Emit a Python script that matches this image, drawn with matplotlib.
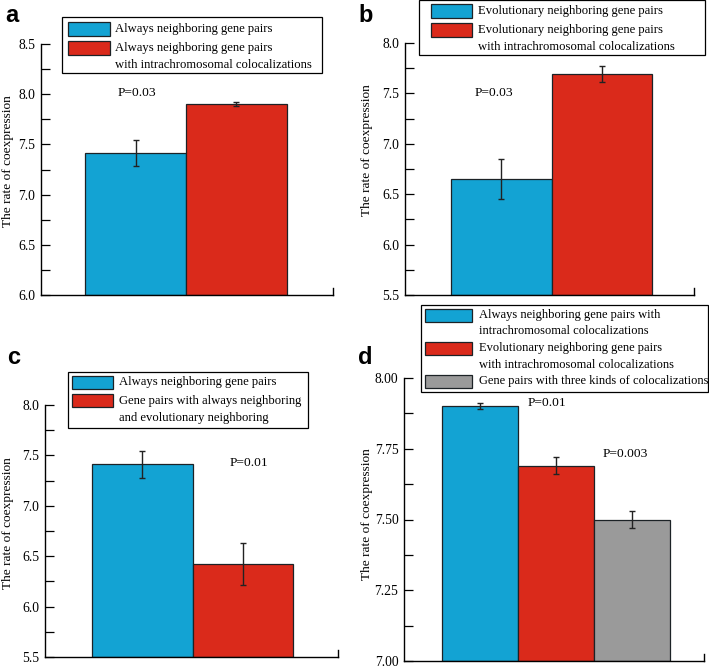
import numpy as np
import matplotlib.pyplot as plt
from matplotlib.patches import Rectangle

plt.rcParams['font.family'] = ['Liberation Serif', 'DejaVu Serif']

W, H = 709, 669

# data for the four panels
labels_a = ['Always neighboring gene pairs',
            'Always neighboring gene pairs\nwith intrachromosomal colocalizations']
means_a = [7.41, 7.90]
errs_a = [0.13, 0.02]

labels_b = ['Evolutionary neighboring gene pairs',
            'Evolutionary neighboring gene pairs\nwith intrachromosomal colocalizations']
means_b = [6.65, 7.69]
errs_b = [0.20, 0.08]

labels_c = ['Always neighboring gene pairs',
            'Gene pairs with always neighboring\nand evolutionary neighboring']
means_c = [7.41, 6.42]
errs_c = [0.13, 0.21]

labels_d = ['Always neighboring gene pairs with\nintrachromosomal colocalizations',
            'Evolutionary neighboring gene pairs\nwith intrachromosomal colocalizations',
            'Gene pairs with three kinds of colocalizations']
means_d = [7.90, 7.69, 7.50]
errs_d = [0.01, 0.03, 0.03]

colors = ['#13a3d3', '#da2a1b', '#9a9a9a']
edge = '#1c2226'

fig = plt.figure(figsize=(W / 100, H / 100), dpi=100)


def fx(px):
    return px / W


def fy(py):
    return 1 - py / H


def px_axes(left, top, right, bottom):
    return fig.add_axes([fx(left), fy(bottom), (right - left) / W, (bottom - top) / H])


def legend_box(names, box, hx, tx, y0, line=16.5, extra=2.5, size=9.1):
    # hand-made legend: handle sits level with the first line of each label
    l, t, r, b = box
    fig.patches.append(Rectangle((fx(l), fy(b)), (r - l) / W, (b - t) / H,
                                 transform=fig.transFigure, facecolor='white',
                                 edgecolor='black', linewidth=0.9, zorder=5))
    y = y0
    for i, name in enumerate(names):
        fig.patches.append(Rectangle((fx(hx[0]), fy(y + 6.5)), (hx[1] - hx[0]) / W, 13 / H,
                                     transform=fig.transFigure, facecolor=colors[i],
                                     edgecolor=edge, linewidth=0.9, zorder=6))
        for k, ln in enumerate(name.split('\n')):
            fig.text(fx(tx), fy(y + k * line), ln, fontsize=size, ha='left',
                     va='center', zorder=7)
        y += len(name.split('\n')) * line + extra


def panel(rect, means, errs, ylim, major, minor, xlim, fmt, tag, tag_xy, ylab_xy, ptexts):
    ax = px_axes(*rect)
    x = np.arange(len(means))
    ax.bar(x, np.array(means) - ylim[0], width=1.0, bottom=ylim[0],
           color=colors[:len(means)], edgecolor=edge, linewidth=0.9)
    ax.errorbar(x, means, yerr=errs, fmt='none', ecolor='#222222',
                elinewidth=1.0, capsize=2.4, capthick=1.0)
    ax.set_xlim(*xlim)
    ax.set_ylim(*ylim)
    ax.set_yticks(np.arange(ylim[0], ylim[1] + 1e-9, major))
    ax.set_yticks(np.arange(ylim[0], ylim[1] + 1e-9, minor), minor=True)
    ax.yaxis.set_major_formatter(plt.FormatStrFormatter(fmt))
    ax.tick_params(axis='y', which='both', direction='in', length=6.5, width=0.9,
                   labelsize=9.8, pad=4)
    ax.set_xticks([])
    for s in ['top', 'right']:
        ax.spines[s].set_visible(False)
    for s in ['left', 'bottom']:
        ax.spines[s].set_linewidth(1.0)
    ax.plot([1, 1], [0, 7 / (rect[3] - rect[1])], transform=ax.transAxes,
            color='black', lw=1.0, clip_on=False)
    fig.text(fx(ylab_xy[0]), fy(ylab_xy[1]), 'The rate of coexpression', fontsize=9.6,
             rotation=90, ha='center', va='center')
    for (tx, ty, s) in ptexts:
        fig.text(fx(tx), fy(ty), s, fontsize=9.7, ha='left', va='center')
    fig.text(fx(tag_xy[0]), fy(tag_xy[1]), tag, fontsize=17, fontweight='bold',
             family='Liberation Sans', ha='left', va='center')
    return ax


panel((41, 44, 333, 295), means_a, errs_a, (6.0, 8.5), 0.5, 0.25,
      (-0.94, 1.96), '%.1f', 'a', (5, 15), (8, 161), [(118, 93, 'P=0.03')])
legend_box(labels_a, (62, 17, 322, 73), (68, 110), 115, 29)

panel((405, 43, 694, 295), means_b, errs_b, (5.5, 8.0), 0.5, 0.25,
      (-0.955, 1.915), '%.1f', 'b', (358, 15), (367, 150), [(475, 93, 'P=0.03')])
legend_box(labels_b, (419, 0, 705, 55), (431, 472), 478, 11)

panel((45, 405, 338, 657), means_c, errs_c, (5.5, 8.0), 0.5, 0.25,
      (-0.97, 1.95), '%.1f', 'c', (7, 357), (8, 523), [(230, 463, 'P=0.01')])
legend_box(labels_c, (68, 372, 308, 428), (72, 113), 119, 382)

panel((404, 378, 704, 661), means_d, errs_d, (7.0, 8.0), 0.25, 0.125,
      (-1.0, 2.95), '%.2f', 'd', (358, 357), (367, 514),
      [(528, 403, 'P=0.01'), (603, 454, 'P=0.003')])
legend_box(labels_d, (421, 305, 708, 392), (425, 472), 479, 315, extra=0.0, size=9.0)

fig.savefig('out.png', dpi=100)
